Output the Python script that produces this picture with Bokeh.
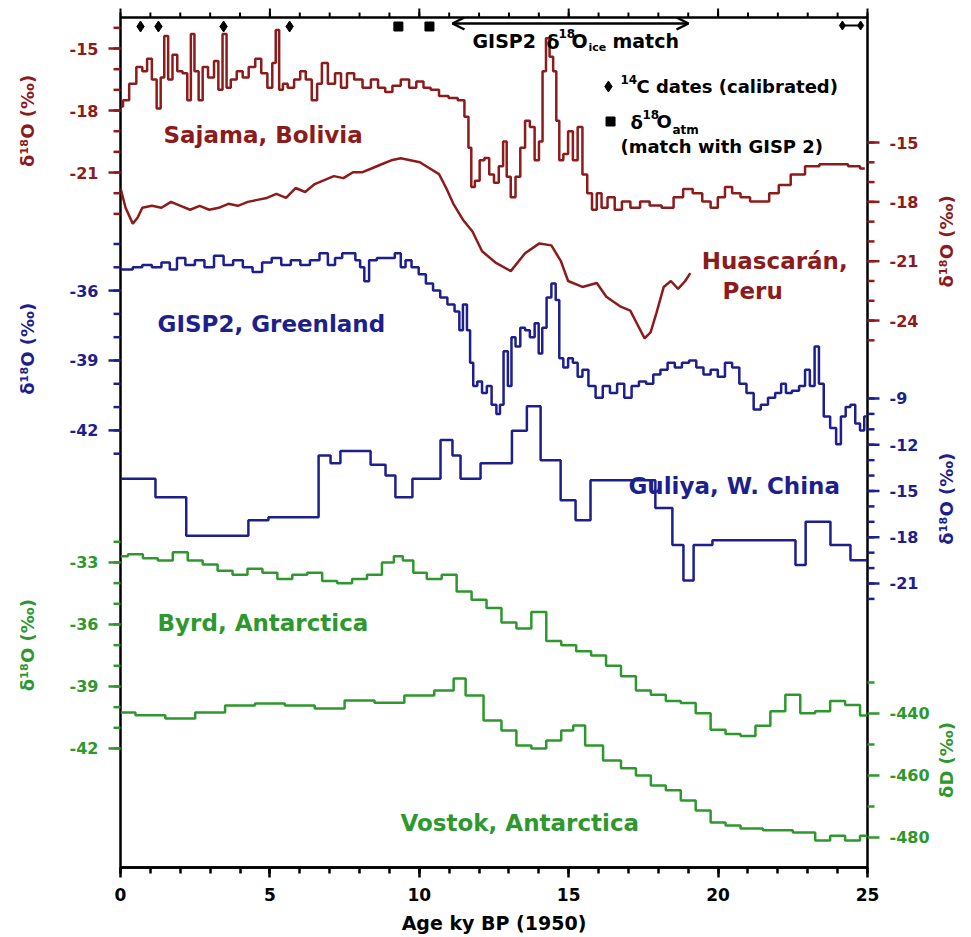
import math
from bokeh.plotting import figure
from bokeh.models import Range1d, LinearAxis, FixedTicker, ColumnDataSource, Arrow, OpenHead
from bokeh.core.properties import value
from bokeh.embed import file_html
from bokeh.resources import INLINE

# ---------------- records (age in ky BP, isotope values in per mil) ----------------
SAJAMA_AGE = [0, 0.17, 0.41, 0.65, 0.81, 0.97, 1.13, 1.29, 1.40, 1.53,
              1.66, 1.82, 1.98, 2.17, 2.30, 2.41, 2.54, 2.69, 2.81, 3.05,
              3.21, 3.34, 3.49, 3.61, 3.77, 4.01, 4.17, 4.41, 4.61, 4.81,
              5.02, 5.14, 5.25, 5.37, 5.50, 5.69, 5.93, 6.10, 6.30, 6.50,
              6.66, 6.82, 7.06, 7.30, 7.46, 7.70, 7.94, 8.26, 8.50, 8.74,
              8.98, 9.22, 9.54, 9.78, 10.02, 10.26, 10.50, 10.82, 11.14, 11.43,
              11.59, 11.70, 11.78, 11.94, 12.10, 12.26, 12.42, 12.58, 12.74, 12.87,
              12.98, 13.14, 13.30, 13.46, 13.62, 13.78, 13.94, 14.07, 14.18, 14.30,
              14.42, 14.54, 14.63, 14.74, 14.90, 15.06, 15.22, 15.38, 15.54, 15.70,
              15.86, 16.02, 16.18, 16.42, 16.66, 16.90, 17.23, 17.55, 17.87, 18.35,
              18.67, 18.99, 19.31, 19.63, 19.87, 20.11, 20.35, 20.59, 20.91, 21.23,
              21.55, 21.87, 22.19, 22.67, 23.15, 23.63, 24.11, 24.59, 24.91]
SAJAMA_D18O = [-17.8, -17.5, -16.7, -15.9, -16.1, -15.5, -16.5, -17.9, -16.4, -14.4,
               -16.5, -15.3, -16.1, -16.2, -17.5, -14.3, -16.1, -17.5, -15.9, -16.4,
               -15.6, -17.0, -14.3, -16.9, -16.5, -16.1, -16.4, -15.9, -15.5, -16.2,
               -16.9, -15.7, -14.1, -17.0, -16.7, -16.9, -16.5, -16.1, -16.5, -17.5,
               -16.7, -15.7, -16.7, -16.2, -16.9, -16.2, -16.5, -16.9, -16.5, -16.9,
               -17.1, -16.8, -16.5, -16.9, -16.6, -16.9, -17.0, -17.3, -17.4, -17.5,
               -18.3, -19.8, -21.7, -21.4, -20.4, -20.3, -21.1, -21.5, -20.7, -19.5,
               -21.2, -22.2, -21.2, -19.8, -18.5, -18.8, -20.4, -19.5, -16.1, -14.5,
               -15.4, -16.1, -18.5, -20.4, -20.1, -19.0, -20.4, -18.8, -21.1, -22.0,
               -22.8, -22.0, -22.7, -22.2, -22.8, -22.4, -22.7, -22.4, -22.6, -22.7,
               -22.2, -21.8, -22.0, -22.4, -22.7, -22.2, -21.7, -22.0, -22.2, -22.4,
               -22.4, -22.0, -21.6, -21.1, -20.7, -20.6, -20.6, -20.7, -20.8]

HUASCARAN_AGE = [0, 0.17, 0.41, 0.57, 0.73, 1.05, 1.37, 1.69, 2.01, 2.33,
                 2.65, 2.97, 3.29, 3.61, 3.93, 4.26, 4.58, 4.90, 5.22, 5.54,
                 5.86, 6.18, 6.50, 6.82, 7.14, 7.46, 7.78, 8.10, 8.42, 8.74,
                 9.06, 9.38, 9.70, 10.02, 10.34, 10.66, 10.90, 11.14, 11.46, 11.78,
                 12.10, 12.58, 13.06, 13.54, 14.02, 14.42, 14.74, 14.98, 15.46, 15.94,
                 16.26, 16.74, 17.06, 17.30, 17.54, 17.74, 17.94, 18.18, 18.42, 18.66,
                 18.90, 19.07]
HUASCARAN_D18O = [-17.3, -18.3, -19.1, -18.8, -18.3, -18.2, -18.3, -18.0, -18.2, -18.4,
                  -18.2, -18.4, -18.3, -18.1, -18.2, -18.0, -17.9, -17.8, -17.6, -17.8,
                  -17.3, -17.5, -17.1, -16.9, -16.7, -16.8, -16.5, -16.5, -16.3, -16.1,
                  -15.9, -15.8, -15.9, -16.0, -16.3, -16.6, -17.3, -18.1, -18.9, -19.5,
                  -20.5, -21.1, -21.5, -20.6, -20.1, -20.2, -21.0, -22.0, -22.3, -22.1,
                  -22.8, -23.3, -23.5, -24.2, -24.9, -24.6, -23.6, -22.3, -22.0, -22.4,
                  -22.0, -21.6]

GISP2_AGE = [0, 0.25, 0.57, 0.89, 1.21, 1.53, 1.77, 2.01, 2.33, 2.65,
             2.97, 3.29, 3.61, 3.93, 4.26, 4.58, 4.90, 5.22, 5.54, 5.86,
             6.18, 6.50, 6.82, 7.06, 7.30, 7.54, 7.78, 7.94, 8.10, 8.22,
             8.42, 8.74, 9.06, 9.30, 9.46, 9.62, 9.86, 10.10, 10.34, 10.58,
             10.82, 11.06, 11.30, 11.38, 11.54, 11.65, 11.75, 11.86, 12.02, 12.18,
             12.34, 12.50, 12.66, 12.74, 12.90, 13.03, 13.14, 13.30, 13.46, 13.62,
             13.78, 13.94, 14.05, 14.18, 14.34, 14.50, 14.63, 14.74, 14.90, 15.06,
             15.22, 15.38, 15.54, 15.78, 16.02, 16.26, 16.50, 16.74, 16.98, 17.23,
             17.47, 17.71, 17.95, 18.19, 18.43, 18.67, 18.91, 19.15, 19.39, 19.63,
             19.87, 20.11, 20.35, 20.59, 20.83, 21.07, 21.31, 21.55, 21.79, 22.03,
             22.19, 22.35, 22.59, 22.83, 22.99, 23.15, 23.31, 23.44, 23.63, 23.87,
             24.03, 24.19, 24.35, 24.51, 24.67, 24.83, 24.95]
GISP2_D18O = [-35.1, -35.1, -35.0, -34.9, -35.0, -34.8, -35.1, -34.6, -34.9, -34.7,
              -35.0, -34.5, -34.9, -34.7, -35.0, -35.2, -34.8, -34.6, -34.9, -34.7,
              -34.9, -34.7, -34.4, -34.9, -34.6, -34.4, -34.4, -34.7, -35.0, -35.6,
              -34.7, -34.6, -34.6, -34.4, -35.0, -34.7, -35.0, -35.3, -35.7, -36.0,
              -36.3, -36.6, -36.9, -37.7, -36.6, -37.7, -39.1, -40.1, -39.9, -40.4,
              -40.1, -40.9, -41.3, -40.9, -38.6, -40.1, -38.0, -38.4, -37.6, -37.7,
              -38.0, -37.4, -38.7, -37.6, -36.3, -35.7, -36.4, -38.9, -39.3, -38.9,
              -39.1, -39.7, -39.4, -40.1, -40.6, -40.1, -40.4, -40.0, -40.6, -40.1,
              -39.9, -40.0, -39.6, -39.4, -39.1, -39.3, -39.1, -39.0, -39.3, -39.6,
              -39.4, -39.7, -39.1, -39.3, -40.0, -40.4, -41.1, -40.9, -40.6, -40.4,
              -40.0, -40.4, -40.3, -40.1, -39.4, -40.1, -38.4, -40.0, -41.4, -41.9,
              -42.6, -41.4, -41.0, -40.9, -41.7, -42.0, -41.4]

GULIYA_AGE = [0, 1.17, 2.20, 4.28, 4.95, 6.63, 7.03, 7.36, 8.37, 8.87,
              9.20, 9.77, 10.71, 11.11, 11.38, 12.05, 13.10, 13.60, 14.06, 14.73,
              15.23, 15.73, 17.90, 18.47, 18.84, 19.18, 19.81, 22.59, 22.93, 23.76,
              24.43, 25.0]
GULIYA_D18O = [-14.2, -15.4, -17.9, -16.9, -16.7, -12.7, -13.2, -12.4, -13.3, -14.0,
               -15.4, -14.2, -11.7, -12.7, -14.2, -13.2, -11.1, -9.5, -13.0, -15.6,
               -16.9, -14.3, -16.1, -18.5, -20.8, -18.5, -18.2, -19.8, -17.0, -18.5,
               -19.5, -19.5]

BYRD_AGE = [0, 0.5, 1, 1.5, 2, 2.5, 3, 3.5, 4, 4.5,
            5, 5.5, 6, 6.5, 7, 7.5, 8, 8.5, 9, 9.3,
            9.6, 10, 10.5, 11, 11.5, 12, 12.5, 13, 13.5, 14,
            14.5, 15, 15.5, 16, 16.5, 17, 17.5, 18, 18.5, 19,
            19.5, 20, 20.5, 21, 21.5, 22, 22.5, 23, 23.5, 24,
            24.5, 25]
BYRD_D18O = [-32.7, -32.6, -32.8, -32.9, -32.5, -32.9, -33.1, -33.4, -33.6, -33.3,
             -33.5, -33.8, -33.6, -33.5, -33.9, -34.0, -33.8, -33.6, -33.0, -32.7,
             -32.9, -33.5, -33.8, -33.6, -34.4, -34.8, -35.2, -35.9, -36.2, -35.4,
             -36.8, -37.0, -37.3, -37.5, -38.0, -38.5, -39.2, -39.4, -39.7, -39.8,
             -40.3, -41.1, -41.3, -41.4, -40.9, -40.2, -39.4, -40.3, -40.2, -39.7,
             -39.9, -40.4]

VOSTOK_AGE = [0, 1, 2, 3, 4, 5, 6, 7, 8, 9,
              10, 11, 11.3, 11.8, 12.5, 13, 13.5, 14, 14.5, 15,
              15.3, 15.8, 16.5, 17, 17.5, 18, 18.5, 19, 19.5, 20,
              20.5, 21, 22, 23, 23.5, 24, 24.5, 25]
VOSTOK_DD = [-439.7, -440.6, -441.6, -439.7, -437.4, -436.8, -437.4, -438.4, -435.8, -436.5,
             -434.2, -432.6, -428.7, -434.2, -442.3, -445.5, -450.3, -451.3, -448.7, -445.5,
             -443.9, -450.3, -455.2, -457.7, -460.0, -463.2, -464.8, -468.1, -471.3, -475.2,
             -476.1, -477.1, -477.7, -478.4, -481.0, -479.4, -481.0, -479.4]

# dating control points along the top edge
C14_DATES = [0.67, 1.27, 3.45, 5.66]
ATM_MATCH = [9.30, 10.34]
ICE_MATCH = (11.11, 19.01)
END_DATES = [24.16, 24.77]

AGE_TICKS = [0, 5, 10, 15, 20, 25]
AGE_MINOR = list(range(0, 26))

RED = "#8c1b1b"
BLUE = "#1d1f8c"
GREEN = "#2e982e"
FONT = "DejaVu Sans"

# The main y range is a layout coordinate (pixels from the top of the canvas);
# each record gets its own range.
p = figure(width=971, height=937, output_backend="svg", toolbar_location=None,
           x_range=Range1d(0, 25), y_range=Range1d(867, 17),
           x_axis_location=None, y_axis_location=None,
           min_border_left=120, min_border_right=104,
           min_border_top=17, min_border_bottom=70)
p.grid.visible = False
p.outline_line_color = "black"
p.outline_line_width = 2.5
p.background_fill_color = "white"
p.border_fill_color = "white"

p.extra_y_ranges = {
    "sajama": Range1d(-54.62, -13.50),
    "huascaran": Range1d(-51.65, -8.68),
    "gisp2": Range1d(-60.76, -24.28),
    "guliya": Range1d(-39.42, 15.71),
    "byrd": Range1d(-47.76, -6.63),
    "vostok": Range1d(-489.68, -215.5),
}


def value_scale(side, rng, major, minor, color, title):
    """Ticks, tick labels and title of one record's scale, drawn on the frame edge."""
    left = side == "left"
    x0 = 0 if left else 25
    sgn = -1 if left else 1
    ang = math.pi if left else 0
    common = dict(y_range_name=rng, level="overlay")
    p.ray(x=[x0] * len(minor), y=minor, length=7, length_units="screen", angle=ang,
          line_color=color, line_width=2.5, **common)
    p.ray(x=[x0] * len(major), y=major, length=12, length_units="screen", angle=ang,
          line_color=color, line_width=2.5, **common)
    p.text(x=[x0] * len(major), y=major, text=[str(v) for v in major],
           x_offset=sgn * 22, text_align="right" if left else "left", text_baseline="middle",
           text_color=color, text_font=value(FONT), text_font_style="bold",
           text_font_size="16px", **common)
    ticks = major + minor
    mid = (min(ticks) + max(ticks)) / 2
    p.text(x=[x0], y=[mid], text=[title], angle=math.pi / 2,
           x_offset=sgn * (93 if left else 79), text_align="center", text_baseline="middle",
           text_color=color, text_font=value(FONT), text_font_style="bold",
           text_font_size="18px", **common)


D18O = "δ¹⁸O (‰)"
value_scale("left", "sajama", [-15, -18, -21], list(range(-23, -13)), RED, D18O)
value_scale("left", "gisp2", [-36, -39, -42], list(range(-43, -33)), BLUE, D18O)
value_scale("left", "byrd", [-33, -36, -39, -42], list(range(-42, -31)), GREEN, D18O)
value_scale("right", "huascaran", [-15, -18, -21, -24], list(range(-25, -14)), RED, D18O)
value_scale("right", "guliya", [-9, -12, -15, -18, -21], list(range(-22, -8)), BLUE, D18O)
value_scale("right", "vostok", [-440, -460, -480], [-430, -450, -470], GREEN, "δD (‰)")

# age axis along the bottom
age_ticker = FixedTicker(ticks=AGE_TICKS, minor_ticks=AGE_MINOR)
xb = LinearAxis(ticker=age_ticker, axis_label="Age ky BP (1950)",
                axis_line_width=2.5, major_tick_line_width=2.5, minor_tick_line_width=2.5,
                major_tick_in=0, major_tick_out=10, minor_tick_in=0, minor_tick_out=6,
                major_label_standoff=10,
                major_label_text_font=FONT, major_label_text_font_style="bold",
                major_label_text_font_size="17px", major_label_text_color="black",
                axis_label_text_font=FONT, axis_label_text_font_style="bold",
                axis_label_text_font_size="19px", axis_label_text_color="black",
                axis_label_standoff=8)
p.add_layout(xb, "below")

# matching unlabelled ticks along the top edge
p.ray(x=AGE_MINOR, y=[17] * len(AGE_MINOR), length=5, length_units="screen",
      angle=math.pi / 2, line_color="black", line_width=2, level="overlay")
p.ray(x=AGE_TICKS, y=[17] * len(AGE_TICKS), length=9, length_units="screen",
      angle=math.pi / 2, line_color="black", line_width=2, level="overlay")


def trace(ages, vals, rng, color, mode):
    src = ColumnDataSource(dict(age=ages, val=vals))
    if mode == "line":
        p.line("age", "val", source=src, y_range_name=rng, line_color=color, line_width=2.5)
    else:
        p.step("age", "val", source=src, y_range_name=rng, mode=mode,
               line_color=color, line_width=2.5)


trace(SAJAMA_AGE, SAJAMA_D18O, "sajama", RED, "center")
trace(HUASCARAN_AGE, HUASCARAN_D18O, "huascaran", RED, "line")
trace(GISP2_AGE, GISP2_D18O, "gisp2", BLUE, "center")
trace(GULIYA_AGE, GULIYA_D18O, "guliya", BLUE, "after")
trace(BYRD_AGE, BYRD_D18O, "byrd", GREEN, "center")
trace(VOSTOK_AGE, VOSTOK_DD, "vostok", GREEN, "center")


def label(x, y, text, color="black", size="23px", dx=0):
    p.text(x=[x], y=[y], text=[text], x_offset=dx, text_color=color,
           text_font=value(FONT), text_font_style="bold", text_font_size=size,
           text_baseline="middle", text_align="left")


# record names
label(1.44, 134, "Sajama, Bolivia", RED)
label(19.45, 260, "Huascarán,", RED)
label(20.15, 290, "Peru", RED)
label(1.24, 323, "GISP2, Greenland", BLUE)
label(17.0, 485, "Guliya, W. China", BLUE)
label(1.24, 622, "Byrd, Antarctica", GREEN)
label(9.37, 822, "Vostok, Antarctica", GREEN)

# dating control along the top
p.scatter(C14_DATES, [26] * len(C14_DATES), marker="diamond", size=11, color="black")
p.scatter(ATM_MATCH, [26] * len(ATM_MATCH), marker="square", size=9, color="black")
p.line(END_DATES, [25, 25], line_color="black", line_width=2)
p.scatter(END_DATES, [25, 25], marker="diamond", size=9, color="black")
p.add_layout(Arrow(start=OpenHead(size=12, line_width=2.5), end=OpenHead(size=12, line_width=2.5),
                   x_start=ICE_MATCH[0], y_start=23, x_end=ICE_MATCH[1], y_end=23,
                   line_width=2.5, line_color="black"))

ax0 = 11.78
label(ax0, 40, "GISP2", size="19px")
label(ax0, 41, "δ", size="19px", dx=74)
label(ax0, 33, "18", size="12px", dx=86)
label(ax0, 40, "O", size="19px", dx=99)
label(ax0, 47, "ice", size="11px", dx=116)
label(ax0, 40, "match", size="19px", dx=140)

# key
lx = 16.33
p.scatter([lx], [86], marker="diamond", size=11, color="black")
label(lx, 79, "14", size="12px", dx=12)
label(lx, 86, "C dates (calibrated)", size="18px", dx=28)
p.scatter([lx + 0.07], [121], marker="square", size=9, color="black")
label(lx, 122, "δ", size="18px", dx=22)
label(lx, 114, "18", size="12px", dx=34)
label(lx, 121, "O", size="18px", dx=48)
label(lx, 129, "atm", size="12px", dx=64)
label(lx, 146, "(match with GISP 2)", size="18px", dx=12)

open("out.html", "w").write(file_html(p, INLINE))
